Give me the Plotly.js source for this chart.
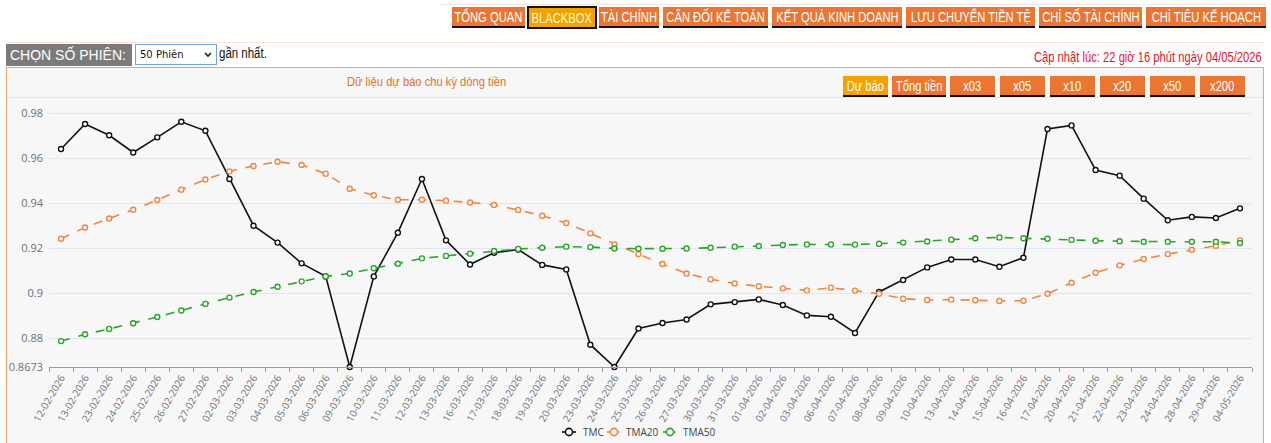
<!DOCTYPE html>
<html>
<head>
<meta charset="utf-8">
<script src="https://cdn.plot.ly/plotly-3.0.1.min.js"></script>
<style>
  html,body{margin:0;padding:0;background:#fff;width:1271px;height:443px;overflow:hidden;font-family:"Liberation Sans",Arial,sans-serif;}
  .abs{position:absolute;}
  .nbtn{position:absolute;top:7px;height:19px;background:#eb7634;color:#fff;font-size:14px;border-bottom:2px solid #111;display:flex;align-items:center;justify-content:center;white-space:nowrap;overflow:visible;}
  .nbtn span,.cbtn span,.sx{display:inline-block;transform:scaleX(0.8);white-space:nowrap;}
  .nbtn.sel{background:#f5a100;color:#fffbd0;border:2px solid #111;top:6px;height:19px;box-sizing:content-box;}
  .cbtn{position:absolute;top:76px;height:19px;background:#eb7634;color:#fff;font-size:14px;border-bottom:2px solid #111;display:flex;align-items:center;justify-content:center;white-space:nowrap;}
  #plot{position:absolute;left:0;top:0;width:1271px;height:443px;}
  .leg{position:absolute;top:425px;height:14px;display:flex;align-items:center;font-family:"Open Sans","Noto Sans",sans-serif;font-size:10px;color:#444;}
</style>
</head>
<body>
<div class="abs" style="left:440px;top:4px;width:826px;height:1px;background:#fbe3d8;"></div>
<div class="nbtn" style="left:452px;width:73px;"><span>TỔNG QUAN</span></div>
<div class="nbtn sel" style="left:527px;width:66px;"><span>BLACKBOX</span></div>
<div class="nbtn" style="left:599px;width:60px;"><span>TÀI CHÍNH</span></div>
<div class="nbtn" style="left:663px;width:105px;"><span>CÂN ĐỐI KẾ TOÁN</span></div>
<div class="nbtn" style="left:772px;width:130px;"><span>KẾT QUẢ KINH DOANH</span></div>
<div class="nbtn" style="left:906px;width:129px;"><span>LƯU CHUYỂN TIỀN TỆ</span></div>
<div class="nbtn" style="left:1039px;width:103px;"><span>CHỈ SỐ TÀI CHÍNH</span></div>
<div class="nbtn" style="left:1146px;width:120px;"><span>CHỈ TIÊU KẾ HOẠCH</span></div>

<div class="abs" style="left:6px;top:42px;width:1258px;height:1px;background:#fbe3d8;"></div>
<div class="abs" style="left:6px;top:44px;width:126px;height:22px;line-height:22px;background:#7b7b7b;color:#fff;font-size:14px;padding-left:4px;box-sizing:border-box;">CHỌN SỐ PHIÊN:</div>
<div class="abs" style="left:135px;top:44px;width:82px;height:21px;border:1px solid #6fa2e0;box-sizing:border-box;background:#fff;font-size:10px;line-height:19px;padding-left:4px;color:#111;font-family:'DejaVu Sans',sans-serif;">50 Phiên
  <svg style="position:absolute;right:4px;top:7px" width="8" height="6"><path d="M1 1 L4 4 L7 1" stroke="#222" stroke-width="1.6" fill="none"/></svg>
</div>
<div class="abs" style="left:219px;top:45px;font-size:14px;color:#111;"><span class="sx" style="transform-origin:left center;transform:scaleX(0.82);">gần nhất.</span></div>
<div class="abs" style="right:9px;top:49px;font-size:14px;color:#e8141e;"><span class="sx" style="transform-origin:right center;">Cập nhật lúc: 22 giờ 16 phút ngày 04/05/2026</span></div>

<div class="abs" style="left:6px;top:67px;width:1258px;height:400px;border:1px solid #f6a06a;box-sizing:border-box;background:#f7f7f7;"></div>
<div class="abs" style="left:7px;top:97px;width:1256px;height:1px;background:#e2e7ee;"></div>
<div class="abs" style="left:300px;top:74px;width:254px;text-align:center;font-size:13px;color:#e8702a;"><span class="sx" style="transform:scaleX(0.86);">Dữ liệu dự báo chu kỳ dòng tiền</span></div>

<div class="cbtn" style="left:843px;width:45px;background:#f5a100;"><span>Dự báo</span></div>
<div class="cbtn" style="left:892px;width:54px;"><span>Tổng tiền</span></div>
<div class="cbtn" style="left:950px;width:45px;"><span>x03</span></div>
<div class="cbtn" style="left:1000px;width:45px;"><span>x05</span></div>
<div class="cbtn" style="left:1050px;width:45px;"><span>x10</span></div>
<div class="cbtn" style="left:1100px;width:45px;"><span>x20</span></div>
<div class="cbtn" style="left:1150px;width:45px;"><span>x50</span></div>
<div class="cbtn" style="left:1200px;width:45px;"><span>x200</span></div>

<div id="plot"></div>
<div id="legend"></div>
<script>
const dates = ["12-02-2026","13-02-2026","23-02-2026","24-02-2026","25-02-2026","26-02-2026","27-02-2026","02-03-2026","03-03-2026","04-03-2026","05-03-2026","06-03-2026","09-03-2026","10-03-2026","11-03-2026","12-03-2026","13-03-2026","16-03-2026","17-03-2026","18-03-2026","19-03-2026","20-03-2026","23-03-2026","24-03-2026","25-03-2026","26-03-2026","27-03-2026","30-03-2026","31-03-2026","01-04-2026","02-04-2026","03-04-2026","06-04-2026","07-04-2026","08-04-2026","09-04-2026","10-04-2026","13-04-2026","14-04-2026","15-04-2026","16-04-2026","17-04-2026","20-04-2026","21-04-2026","22-04-2026","23-04-2026","24-04-2026","28-04-2026","29-04-2026","04-05-2026"];

const tmc = [0.9640,0.9751,0.9701,0.9625,0.9692,0.9761,0.9721,0.9507,0.9300,0.9225,0.9133,0.9075,0.8673,0.9075,0.9269,0.9507,0.9235,0.9128,0.9180,0.9194,0.9126,0.9106,0.8772,0.8673,0.8844,0.8868,0.8884,0.8951,0.8961,0.8973,0.8948,0.8902,0.8896,0.8824,0.9006,0.9059,0.9115,0.9150,0.9150,0.9118,0.9158,0.9729,0.9745,0.9547,0.9522,0.9420,0.9324,0.9339,0.9334,0.9377];

const tma20 = [0.9242,0.9292,0.9332,0.9371,0.9414,0.9460,0.9505,0.9541,0.9565,0.9584,0.9569,0.9531,0.9464,0.9435,0.9415,0.9415,0.9411,0.9403,0.9392,0.9370,0.9344,0.9312,0.9266,0.9217,0.9174,0.9130,0.9088,0.9062,0.9044,0.9031,0.9022,0.9013,0.9025,0.9012,0.8998,0.8976,0.8970,0.8972,0.8969,0.8966,0.8967,0.8998,0.9047,0.9091,0.9124,0.9152,0.9174,0.9193,0.9211,0.9235];

const tma50 = [0.8788,0.8818,0.8842,0.8867,0.8895,0.8924,0.8953,0.8981,0.9006,0.9029,0.9053,0.9075,0.9088,0.9111,0.9131,0.9155,0.9166,0.9176,0.9188,0.9197,0.9202,0.9207,0.9205,0.9199,0.9198,0.9198,0.9199,0.9202,0.9207,0.9210,0.9214,0.9217,0.9217,0.9216,0.9220,0.9225,0.9230,0.9238,0.9244,0.9248,0.9244,0.9242,0.9237,0.9233,0.9231,0.9229,0.9229,0.9229,0.9229,0.9223];

const seriesNames = ["TMC","TMA20","TMA50"];
const yTickVals = [0.8673,0.88,0.9,0.92,0.94,0.96,0.98];
const yTickText = ["0.8673","0.88","0.9","0.92","0.94","0.96","0.98"];

const styles = [
  {color:'#111111', dash:'solid'},
  {color:'#f28440', dash:'dash'},
  {color:'#2aa52a', dash:'dash'}
];
const values = [tmc, tma20, tma50];

const data = values.map((y,i)=>({x: dates, y: y, name: seriesNames[i], type:'scatter', mode:'lines+markers',
    line:{color:styles[i].color, width:1.6, dash:styles[i].dash},
    marker:{symbol:'circle', size:5, color:'#ffffff', line:{color:styles[i].color, width:1.4}},
    cliponaxis:false}));

const layout = {
  width:1271, height:443,
  margin:{l:49, r:19, t:97, b:76, pad:0},
  paper_bgcolor:'rgba(0,0,0,0)', plot_bgcolor:'rgba(0,0,0,0)',
  font:{family:'"Open Sans", "Noto Sans", sans-serif', color:'#6e7079', size:10},
  showlegend:false,
  xaxis:{type:'category', range:[-0.5,49.5], tickangle:-60, tickson:'boundaries', automargin:false,
    ticks:'outside', ticklen:4, tickcolor:'#9a9ca3', showline:true, linecolor:'#9a9ca3', linewidth:1,
    showgrid:false, zeroline:false, tickfont:{size:10, color:'#6e7079'}, fixedrange:true},
  yaxis:{range:[0.8673,0.9871], tickvals:yTickVals, ticktext:yTickText, showgrid:true, automargin:false,
    gridcolor:'#e0e6f1', gridwidth:1, zeroline:false, showline:false, ticks:'',
    ticklabelstandoff:5, tickfont:{size:11, color:'#6e7079'}, fixedrange:true}
};
Plotly.newPlot('plot', data, layout, {displayModeBar:false, staticPlot:true});

// legend (HTML)
const legPos = [{icon:562, text:583},{icon:607, text:626},{icon:663, text:683}];
const legHost = document.getElementById('legend');
seriesNames.forEach((n,i)=>{
  const c = styles[i].color;
  const dashed = styles[i].dash !== 'solid';
  const d = document.createElement('div');
  d.className='leg';
  d.style.left = legPos[i].icon + 'px';
  d.innerHTML = `<svg width="14" height="14" style="margin-right:${legPos[i].text-legPos[i].icon-14}px">
     <line x1="0" y1="7" x2="${dashed?3:14}" y2="7" stroke="${c}" stroke-width="1.6"/>
     ${dashed?`<line x1="11" y1="7" x2="12.5" y2="7" stroke="${c}" stroke-width="1.6"/>`:''}
     <circle cx="7" cy="7" r="3.6" fill="#f7f7f7" stroke="${c}" stroke-width="1.6"/></svg><span>${n}</span>`;
  legHost.appendChild(d);
});
</script>
</body>
</html>
